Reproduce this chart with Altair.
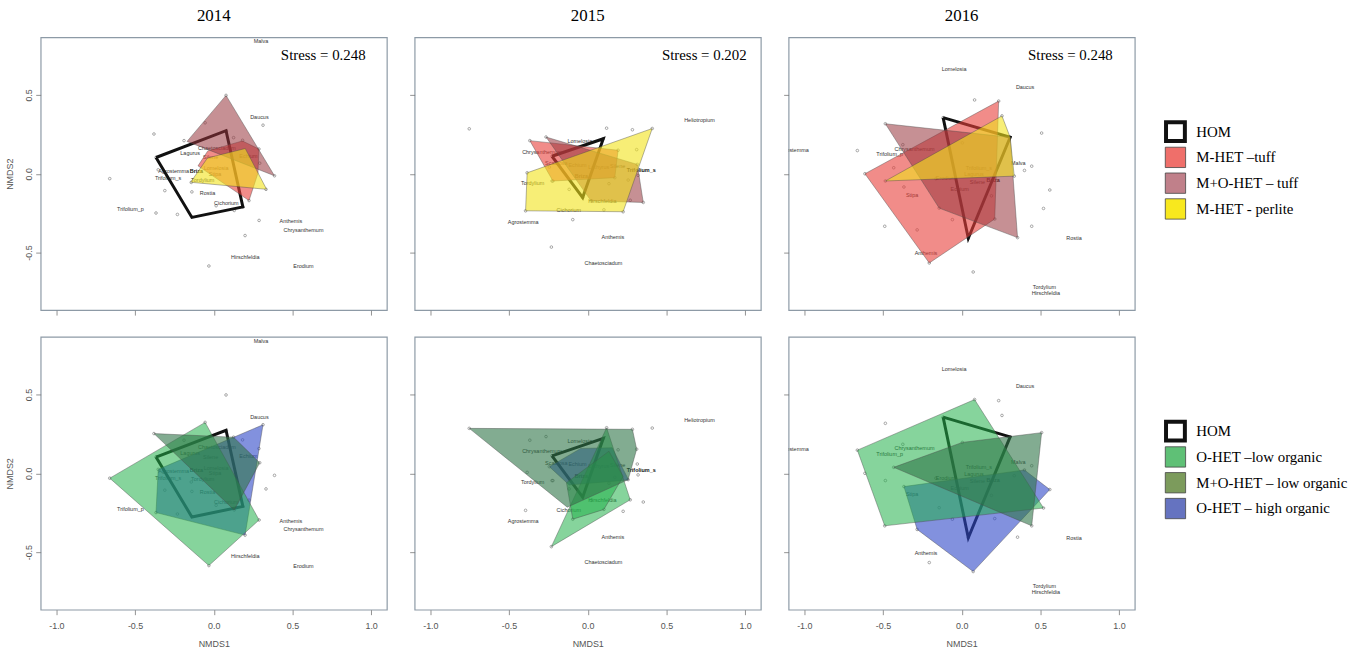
import altair as alt
import pandas as pd

# ---------------------------------------------------------------- data
YEARS = ["2014", "2015", "2016"]
STRESS = ["0.248", "0.202", "0.248"]

GROUPS_MINERAL = ["HOM", "M-HET –tuff", "M+O-HET – tuff", "M-HET - perlite"]
GROUPS_ORGANIC = ["HOM", "O-HET –low organic", "M+O-HET – low organic", "O-HET – high organic"]

# legend swatch colours
SWATCH_MINERAL = ["#FFFFFF", "#EF6F6A", "#C0808A", "#F8E81E"]
SWATCH_ORGANIC = ["#FFFFFF", "#5FC076", "#7C9B5C", "#6573C0"]

# NMDS site scores per year
SITES_2014 = [(-0.661, -0.031), (-0.38, 0.252), (-0.353, 0.025), (-0.311, -0.107), (-0.367, -0.249),
              (-0.231, -0.258), (-0.139, -0.115), (-0.031, -0.585), (0.078, 0.497), (0.288, -0.296),
              (0.199, -0.392), (0.313, 0.308), (0.386, -0.013), (0.332, -0.099), (0.13, -0.233),
              (-0.189, 0.21), (-0.055, 0.323), (0.126, 0.229), (0.183, 0.212), (0.015, -0.203),
              (0.292, 0.067), (-0.143, -0.055), (0.185, -0.21), (-0.367, 0.103), (0.287, 0.157),
              (0.224, -0.17), (0.08, 0.27)]
SITES_2015 = [(-0.753, 0.285), (0.12, 0.289), (0.284, 0.279), (0.41, 0.287), (-0.368, 0.21),
              (-0.265, 0.233), (0.099, 0.222), (-0.227, 0.111), (0.311, 0.153), (-0.385, 0.006),
              (-0.227, -0.046), (-0.118, -0.099), (-0.032, -0.151), (0.135, -0.063), (0.257, -0.04),
              (0.32, -0.01), (0.353, -0.182), (0.193, 0.149), (-0.395, -0.235), (0.225, -0.241),
              (0.103, -0.229), (-0.095, -0.291), (-0.231, -0.465), (0.315, 0.059), (0.021, -0.172),
              (0.172, -0.025), (-0.221, -0.046), (0.27, -0.168), (-0.244, 0.042)]
SITES_2016 = [(0.082, 0.468), (0.235, 0.461), (0.256, 0.367), (-0.118, 0.356), (-0.485, 0.317),
              (0.308, 0.231), (0.508, 0.258), (-0.663, 0.147), (-0.374, 0.184), (-0.615, 0.0),
              (-0.485, -0.046), (-0.432, 0.038), (-0.367, -0.084), (0.334, -0.015), (0.399, 0.021),
              (0.445, 0.048), (0.56, -0.103), (0.52, -0.22), (0.445, -0.333), (0.355, -0.405),
              (0.21, -0.287), (0.189, -0.14), (0.042, -0.409), (-0.059, -0.291), (-0.143, -0.218),
              (-0.283, -0.356), (-0.489, -0.333), (-0.206, -0.566), (0.073, -0.623), (-0.164, -0.031),
              (0.004, 0.196)]

# species scores (name, NMDS1, NMDS2)
SPECIES_2014 = [("Malva", 0.30, 0.84), ("Daucus", 0.29, 0.36), ("Chaetosciadum", 0.02, 0.165),
                ("Lagurus", -0.15, 0.13), ("Echium", 0.22, 0.11), ("Silene", -0.02, 0.105),
                ("Lomelosia", 0.015, 0.035), ("Stipa", 0.008, 0.0), ("Agrostemma", -0.255, 0.015),
                ("Trifolium_s", -0.29, -0.03), ("Tordylium", -0.07, -0.037), ("Rostia", -0.04, -0.12),
                ("Cichorium", 0.08, -0.185), ("Trifolium_p", -0.53, -0.225), ("Anthemis", 0.49, -0.30),
                ("Chrysanthemum", 0.57, -0.355), ("Hirschfeldia", 0.2, -0.525), ("Erodium", 0.57, -0.585)]
SPECIES_2015 = [("Heliotropium", 0.71, 0.338), ("Lomelosia", -0.05, 0.205), ("Chrysanthemum", -0.29, 0.14),
                ("Scabiosa", -0.2, 0.065), ("Echium", -0.065, 0.057), ("Lathyrus", 0.07, 0.045),
                ("Silene", 0.19, 0.05), ("Tordylium", -0.35, -0.057), ("Hirschfeldia", 0.093, -0.172),
                ("Cichorium", -0.12, -0.231), ("Agrostemma", -0.41, -0.304), ("Anthemis", 0.16, -0.402),
                ("Chaetosciadum", 0.1, -0.564)]
SPECIES_2016 = [("Lomelosia", -0.048, 0.662), ("Daucus", 0.403, 0.551), ("Agrostemma", -1.07, 0.153),
                ("Trifolium_p", -0.458, 0.122), ("Chrysanthemum", -0.3, 0.159), ("Malva", 0.36, 0.069),
                ("Trifolium_s", 0.109, 0.038), ("Lagurus", 0.078, -0.004), ("Erodium", -0.1, -0.029),
                ("Silene", 0.1, -0.05), ("Echium", -0.013, -0.094), ("Stipa", -0.315, -0.134),
                ("Anthemis", -0.227, -0.503), ("Rostia", 0.714, -0.409), ("Tordylium", 0.525, -0.717),
                ("Hirschfeldia", 0.535, -0.755)]
# species sharing identical scores (over-printed labels)
STACKED_2014 = [("Briza", -0.11, 0.018)]
STACKED_2015 = [("Briza", -0.04, -0.015), ("Trifolium_s", 0.34, 0.023)]
STACKED_2016 = [("Briza", 0.2, -0.04)]

# convex hulls of the treatment groups (group, vertices)
HOM_2014 = [(-0.367, 0.103), (0.078, 0.273), (0.185, -0.21), (-0.139, -0.277)]
HOM_2015 = [(-0.227, 0.111), (0.099, 0.222), (-0.032, -0.151)]
HOM_2016 = [(-0.118, 0.356), (0.308, 0.231), (0.042, -0.409)]

HULLS_MINERAL_2014 = [
    ("M-HET –tuff", [(-0.1, 0.05), (-0.038, 0.145), (0.182, 0.208), (0.287, 0.157), (0.281, 0.004), (0.224, -0.17)]),
    ("M+O-HET – tuff", [(-0.17, 0.205), (0.078, 0.497), (0.386, -0.013)]),
    ("M-HET - perlite", [(-0.147, -0.054), (-0.04, 0.1), (0.2, 0.16), (0.336, -0.099)]),
]
HULLS_MINERAL_2015 = [
    ("M-HET –tuff", [(-0.368, 0.21), (0.193, 0.149), (0.172, -0.025), (-0.221, -0.046)]),
    ("M+O-HET – tuff", [(-0.265, 0.233), (0.315, 0.059), (0.353, -0.182), (0.021, -0.172)]),
    ("M-HET - perlite", [(-0.385, 0.006), (0.41, 0.287), (0.225, -0.241), (-0.395, -0.235)]),
]
HULLS_MINERAL_2016 = [
    ("M-HET –tuff", [(-0.615, 0.0), (0.235, 0.461), (0.21, -0.287), (-0.206, -0.566)]),
    ("M+O-HET – tuff", [(-0.485, 0.317), (0.308, 0.231), (0.355, -0.405), (-0.143, -0.218)]),
    ("M-HET - perlite", [(-0.485, -0.046), (0.256, 0.367), (0.308, 0.231), (0.334, -0.015)]),
]
HULLS_ORGANIC_2014 = [
    ("O-HET – high organic", [(-0.353, 0.025), (0.313, 0.308), (0.199, -0.392), (-0.367, -0.249)]),
    ("O-HET –low organic", [(-0.661, -0.031), (-0.055, 0.323), (0.288, -0.296), (-0.031, -0.585)]),
    ("M+O-HET – low organic", [(-0.38, 0.252), (0.126, 0.229), (0.292, 0.067), (0.13, -0.233)]),
]
HULLS_ORGANIC_2015 = [
    ("O-HET – high organic", [(-0.244, 0.042), (-0.044, 0.158), (0.155, 0.162), (0.26, -0.042), (-0.118, -0.074)]),
    ("O-HET –low organic", [(0.12, 0.289), (0.27, -0.168), (-0.231, -0.465)]),
    ("O-HET –low organic", [(-0.135, -0.06), (-0.095, -0.291), (0.103, -0.229), (0.225, -0.02), (0.135, 0.14)]),
    ("M+O-HET – low organic", [(-0.753, 0.285), (0.284, 0.279), (0.311, 0.153), (0.257, -0.04), (-0.13, -0.215)]),
]
HULLS_ORGANIC_2016 = [
    ("O-HET – high organic", [(-0.367, -0.084), (0.399, 0.021), (0.56, -0.103), (0.073, -0.623), (-0.283, -0.356)]),
    ("O-HET –low organic", [(-0.663, 0.147), (0.082, 0.468), (0.52, -0.22), (-0.489, -0.333)]),
    ("M+O-HET – low organic", [(-0.432, 0.038), (0.004, 0.196), (0.508, 0.258), (0.445, -0.333)]),
]

# ---------------------------------------------------------------- styling
HULL_FILL = {
    "M-HET –tuff": "#E8403A",
    "M+O-HET – tuff": "#98343C",
    "M-HET - perlite": "#F2E21A",
    "O-HET –low organic": "#22B04A",
    "M+O-HET – low organic": "#2E7448",
    "O-HET – high organic": "#2E48C8",
}
HULL_OPACITY = {
    "M-HET –tuff": 0.6,
    "M+O-HET – tuff": 0.55,
    "M-HET - perlite": 0.6,
    "O-HET –low organic": 0.55,
    "M+O-HET – low organic": 0.6,
    "O-HET – high organic": 0.6,
}
STRESS_ANCHOR = {"2014": 0.965, "2015": 1.01, "2016": 0.96}
PANEL_W, PANEL_H = 349, 275
SERIF = "Liberation Serif"
SANS = "Liberation Sans"

XSCALE = alt.Scale(domain=[-1.1, 1.1], nice=False, zero=False)
YSCALE = alt.Scale(domain=[-0.865, 0.865], nice=False, zero=False)
MINUS_FIX = "replace(format(datum.value, '.1f'), '\u2212', '-')"

YEAR_DATA = {
    "2014": (SITES_2014, SPECIES_2014, STACKED_2014, HOM_2014, HULLS_MINERAL_2014, HULLS_ORGANIC_2014),
    "2015": (SITES_2015, SPECIES_2015, STACKED_2015, HOM_2015, HULLS_MINERAL_2015, HULLS_ORGANIC_2015),
    "2016": (SITES_2016, SPECIES_2016, STACKED_2016, HOM_2016, HULLS_MINERAL_2016, HULLS_ORGANIC_2016),
}


def axes(row, col):
    if row == 1:
        xa = alt.Axis(values=[-1, -0.5, 0, 0.5, 1], labelExpr=MINUS_FIX, title="NMDS1",
                      labelPadding=7, titlePadding=9)
    else:
        xa = alt.Axis(values=[-1, -0.5, 0, 0.5, 1], labels=False, title=None)
    if col == 0:
        ya = alt.Axis(values=[-0.5, 0, 0.5], labelExpr=MINUS_FIX, title="NMDS2", labelAngle=270,
                      labelAlign="center", labelBaseline="bottom", labelPadding=2, titlePadding=10)
    else:
        ya = alt.Axis(values=[-0.5, 0, 0.5], labels=False, title=None)
    return xa, ya


def closed(verts):
    pts = list(verts) + [verts[0]]
    return pd.DataFrame({"x": [p[0] for p in pts], "y": [p[1] for p in pts], "k": list(range(len(pts)))})


def panel(row, col):
    year = YEARS[col]
    sites, species, stacked, hom, hulls_m, hulls_o = YEAR_DATA[year]
    hulls = hulls_m if row == 0 else hulls_o
    xa, ya = axes(row, col)
    X = alt.X("x:Q", scale=XSCALE, axis=xa)
    Y = alt.Y("y:Q", scale=YSCALE, axis=ya)

    site_df = pd.DataFrame({"x": [s[0] for s in sites], "y": [s[1] for s in sites]})
    sp_df = pd.DataFrame({"name": [s[0] for s in species], "x": [s[1] for s in species],
                          "y": [s[2] for s in species]})
    st_df = pd.DataFrame({"name": [s[0] for s in stacked], "x": [s[1] for s in stacked],
                          "y": [s[2] for s in stacked]})

    layers = [
        alt.Chart(site_df).mark_point(shape="circle", size=7, filled=False, color="#777777",
                                      strokeWidth=0.7, opacity=0.9, clip=True).encode(x=X, y=Y),
        alt.Chart(sp_df).mark_text(font=SANS, fontSize=5.5, color="#333333", clip=True)
        .encode(x=X, y=Y, text="name:N"),
        alt.Chart(st_df).mark_text(font=SANS, fontSize=5.5, fontWeight="bold", color="#111111", clip=True)
        .encode(x=X, y=Y, text="name:N"),
        alt.Chart(closed(hom)).mark_line(stroke="#111111", strokeWidth=3, clip=True)
        .encode(x=X, y=Y, order="k:Q"),
    ]
    for group, verts in hulls:
        layers.append(
            alt.Chart(closed(verts)).mark_line(fill=HULL_FILL[group], fillOpacity=HULL_OPACITY[group],
                                               stroke="#4a4a4a", strokeWidth=0.6, strokeOpacity=0.7,
                                               clip=True)
            .encode(x=X, y=Y, order="k:Q")
        )
    if row == 0:
        s_df = pd.DataFrame({"x": [STRESS_ANCHOR[year]], "y": [0.75], "t": ["Stress = " + STRESS[col]]})
        layers.append(
            alt.Chart(s_df).mark_text(font=SERIF, fontSize=15, align="right", baseline="middle", color="black")
            .encode(x=X, y=Y, text="t:N")
        )
    ch = alt.layer(*layers).properties(width=PANEL_W, height=PANEL_H)
    if row == 0:
        ch = ch.properties(title=alt.TitleParams(year, font=SERIF, fontSize=17, fontWeight="normal",
                                                 color="black", offset=12))
    return ch


def legend(row):
    labels = GROUPS_MINERAL if row == 0 else GROUPS_ORGANIC
    swatch = SWATCH_MINERAL if row == 0 else SWATCH_ORGANIC
    df = pd.DataFrame({"label": labels, "swatch": swatch})
    Y = alt.Y("label:N", scale=alt.Scale(type="point", domain=labels, range=[95, 173], padding=0), axis=None)
    boxes = alt.Chart(df).transform_filter("datum.label != 'HOM'").mark_square(
        size=420, stroke="#444444", strokeWidth=0.8, opacity=1
    ).encode(x=alt.value(7), y=Y, fill=alt.Fill("swatch:N", scale=None))
    hom = alt.Chart(df).transform_filter("datum.label == 'HOM'").mark_square(
        size=361, fill="white", stroke="#111111", strokeWidth=4, opacity=1
    ).encode(x=alt.value(7), y=Y)
    text = alt.Chart(df).mark_text(align="left", baseline="middle", font=SERIF, fontSize=15,
                                   color="black").encode(x=alt.value(28), y=Y, text="label:N")
    ch = alt.layer(boxes, hom, text).properties(width=180, height=PANEL_H,
                                                view=alt.ViewBackground(stroke="transparent"))
    if row == 0:
        ch = ch.properties(title=alt.TitleParams(" ", font=SERIF, fontSize=17, offset=12))
    return ch


rows = [alt.hconcat(*[panel(r, c) for c in range(3)], legend(r), spacing=21) for r in range(2)]

chart = (
    alt.vconcat(*rows, spacing=20)
    .properties(padding={"left": 5, "top": 4, "right": 5, "bottom": 2})
    .configure_view(stroke="#8D9AA6", strokeWidth=1.2)
    .configure_axis(domain=False, grid=False, tickColor="#777777", tickSize=5, tickWidth=0.8,
                    labelFont=SANS, labelFontSize=9, labelColor="#555555",
                    titleFont=SANS, titleFontSize=9, titleFontWeight="normal", titleColor="#555555")
)

chart.save("out.html", embed_options={"renderer": "svg", "actions": False})
